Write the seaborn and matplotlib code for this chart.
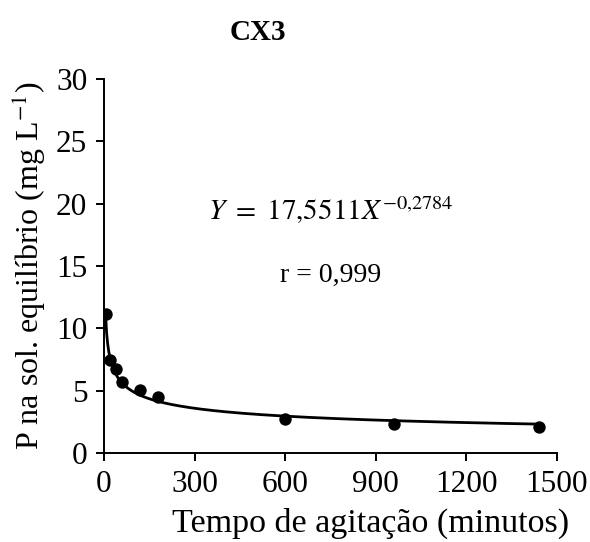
import numpy as np
import pandas as pd
import matplotlib
matplotlib.use("Agg")
import matplotlib.pyplot as plt
import seaborn as sns

# Data
tempo = [5, 20, 40, 60, 120, 180, 600, 960, 1440]
p_equil = [11.15, 7.5, 6.7, 5.7, 5.05, 4.5, 2.7, 2.35, 2.05]

# Fitted power model shown on the chart
coef_a = 17.5511
coef_b = -0.2784

x_ticks = [0, 300, 600, 900, 1200, 1500]
y_ticks = [0, 5, 10, 15, 20, 25, 30]

sns.set_theme(style="ticks")
plt.rcParams['font.family'] = ['Liberation Serif', 'DejaVu Serif']
plt.rcParams['mathtext.fontset'] = 'stix'

fig = plt.figure(figsize=(5.9, 5.42), dpi=100)
ax = fig.add_axes([104/590, 1-453/542, (557-104)/590, (453-79)/542])

xs = np.linspace(min(tempo), max(tempo), 400)
fit = pd.DataFrame({"x": xs, "y": coef_a * xs ** coef_b})
sns.lineplot(data=fit, x="x", y="y", ax=ax, color="black", linewidth=2.0)

df = pd.DataFrame({"x": tempo, "y": p_equil})
sns.scatterplot(data=df, x="x", y="y", ax=ax, color="black", s=80,
                edgecolor="black", linewidth=0, zorder=5)

ax.set_xlim(0, 1500)
ax.set_ylim(0, 30)
ax.set_xticks(x_ticks)
ax.set_yticks(y_ticks)
ax.tick_params(axis='both', direction='out', length=6, width=1.4,
               labelsize=22.5, colors='black', pad=6)
for side in ['left', 'bottom']:
    ax.spines[side].set_linewidth(1.4)
    ax.spines[side].set_color('black')
sns.despine(ax=ax)

ax.set_xlabel("")
ax.set_ylabel("P na sol. equilíbrio (mg L$^{-1}$)", fontsize=23, color='black', labelpad=6)
fig.text(371/590, 1-532/542, "Tempo de agitação (minutos)", ha='center', va='baseline',
         fontsize=24.5, color='black')
fig.text(258/590, 1-33/542, "CX3", ha='center', va='center', fontsize=21,
         fontweight='bold', color='black')

fig.text(331/590, 1-210/542, r"$Y\ =\ 17{,}5511X^{-0{,}2784}$", ha='center', va='center',
         fontsize=21, color='black')
fig.text(331/590, 1-275/542, "r = 0,999", ha='center', va='center', fontsize=20, color='black')

fig.savefig("out.png", dpi=100)
